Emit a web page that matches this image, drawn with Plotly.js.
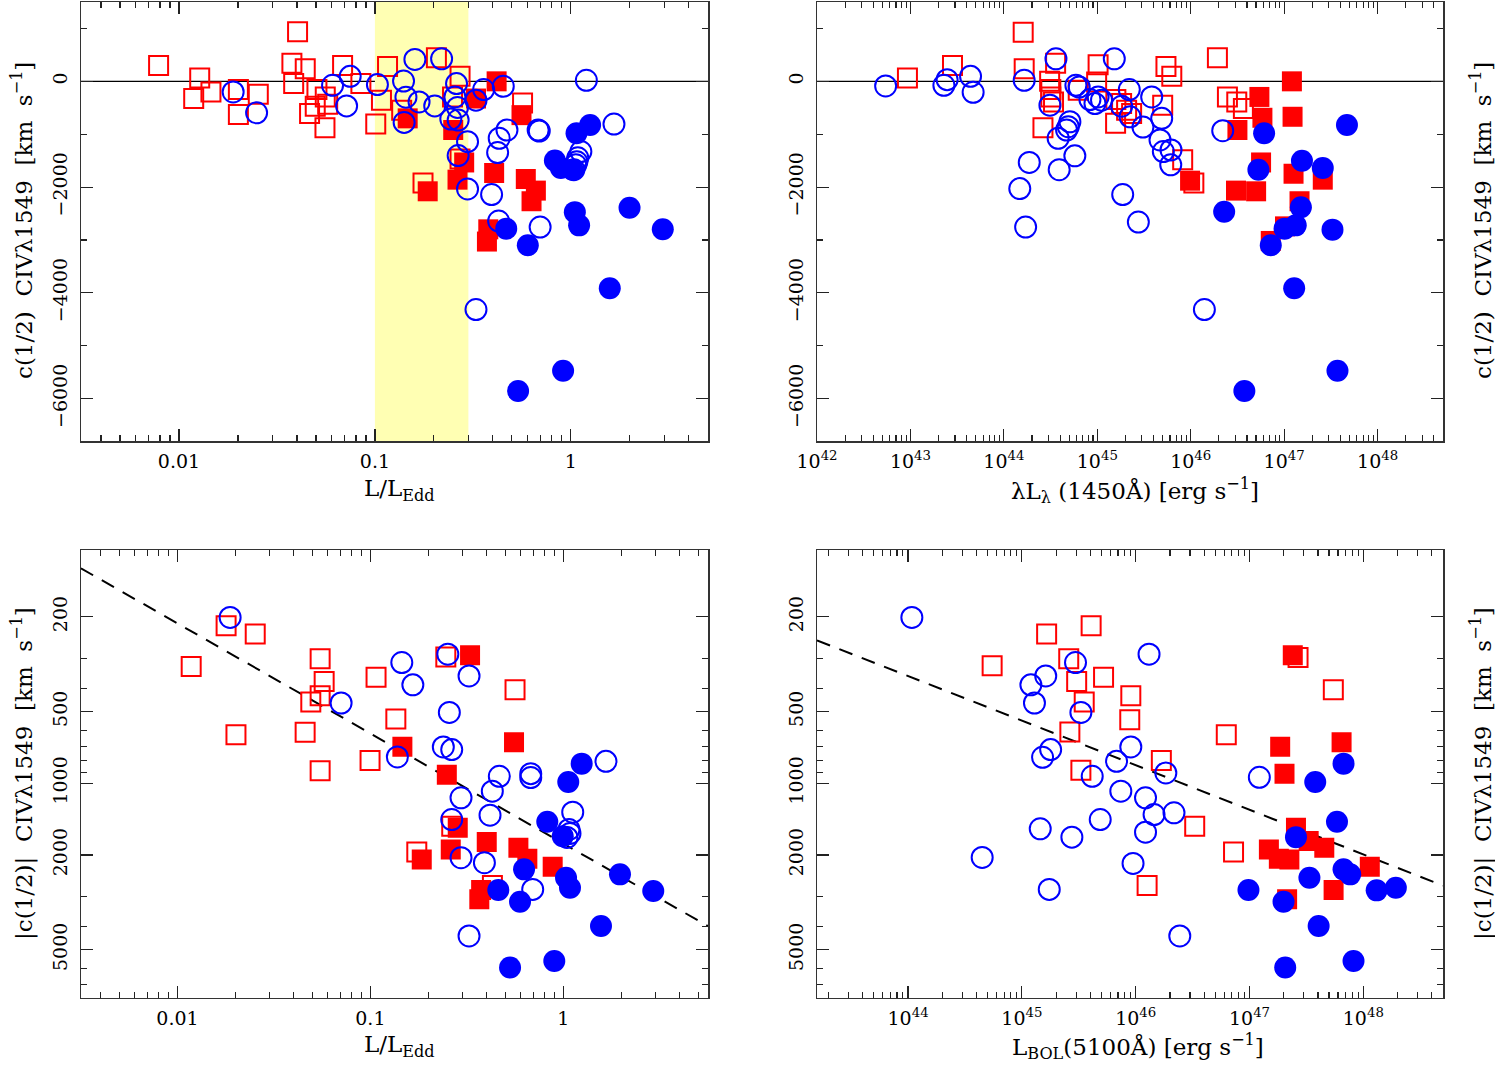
<!DOCTYPE html>
<html>
<head>
<meta charset="utf-8">
<script src="https://cdn.plot.ly/plotly-3.0.1.min.js"></script>
<style>html,body{margin:0;padding:0;background:#fff}</style>
</head>
<body>
<div id="plot" style="width:1495px;height:1065px"></div>
<script>
// ---- top left: c(1/2) CIV vs L/LEdd ----
const tlOpenSqX = [0.00787, 0.01276, 0.01189, 0.01456, 0.0201, 0.0254, 0.0201, 0.0403, 0.0377, 0.0441, 0.0385, 0.0506, 0.0558, 0.0496, 0.0464, 0.0574, 0.0556, 0.0684, 0.0848, 0.108, 0.101, 0.116, 0.137, 0.206, 0.272, 0.249, 0.567, 0.176, 0.272];
const tlOpenSqY = [300, 62, -325, -201, -156, -244, -625, 939, 344, 239, -43, -156, -295, -470, -607, -432, -877, 300, -43, -357, -808, 282, -545, 445, 94, -295, -408, -1921, -1470];
const tlFillSqX = [0.418, 0.328, 0.147, 0.251, 0.56, 0.2855, 0.264, 0.406, 0.589, 0.663, 0.630, 0.186, 0.379, 0.373];
const tlFillSqY = [0, -325, -700, -920, -639, -1534, -1859, -1733, -1846, -2066, -2267, -2079, -2798, -3029];
const tlOpenCiX = [0.0189, 0.0249, 0.0608, 0.0748, 0.0717, 0.103, 0.14, 0.16, 0.219, 0.144, 0.168, 0.202, 0.141, 0.261, 0.256, 0.264, 0.244, 0.266, 0.359, 0.328, 0.452, 0.297, 0.266, 0.472, 0.431, 0.423, 0.681, 0.69, 1.2, 1.66, 1.125, 1.085, 1.073, 1.06, 1.036, 0.297, 0.394, 0.428, 0.697, 0.328];
const tlOpenCiY = [-201, -595, -75, 94, -464, -62, 6, 413, 426, -300, -389, -464, -776, -43, -295, -494, -714, -732, -156, -357, -94, -1140, -1403, -920, -1076, -1347, -920, -939, 19, -808, -1328, -1446, -1521, -1578, -1671, -2034, -2141, -2642, -2755, -4314];
const tlFillCiX = [1.254, 1.069, 0.829, 0.889, 1.02, 1.048, 1.102, 1.993, 2.946, 0.468, 0.603, 1.58, 0.913, 0.538];
const tlFillCiY = [-826, -982, -1497, -1640, -1671, -2473, -2723, -2391, -2798, -2785, -3099, -3912, -5471, -5854];
const bandLo = 0.1, bandHi = 0.3;

// ---- top right: c(1/2) CIV vs lambda L_lambda(1450) ----
const trOpenSqX = [9.29e42, 2.82e43, 1.61e44, 1.65e44, 3.58e44, 3.09e44, 3.18e44, 3.18e44, 3.40e44, 2.62e44, 1.02e45, 9.84e44, 6.25e44, 1.58e45, 1.82e45, 1.57e45, 2.06e45, 2.33e45, 5.43e45, 6.27e45, 5.01e45, 8.20e45, 1.08e46, 1.93e46, 2.47e46, 3.11e46, 3.66e46];
const trOpenSqY = [62, 300, 926, 239, 344, 0, -156, -295, -389, -877, 314, -13, -169, -344, -419, -794, -545, -607, 282, 94, -451, -1484, -1921, 445, -295, -389, -513];
const trFillSqX = [1.21e47, 5.43e46, 5.85e46, 1.23e47, 3.16e46, 5.66e46, 1.26e47, 2.59e47, 3.05e46, 5.01e46, 1.46e47, 1.02e47, 7.19e46, 9.84e45];
const trFillSqY = [0, -295, -689, -670, -920, -1534, -1747, -1859, -2066, -2079, -2267, -2742, -3018, -1878];
const trOpenCiX = [5.43e42, 2.47e43, 2.28e43, 4.40e43, 4.69e43, 1.65e44, 3.61e44, 3.11e44, 5.09e44, 4.89e44, 4.69e44, 3.81e44, 5.75e44, 3.91e44, 1.87e44, 1.48e44, 1.71e44, 5.90e44, 6.40e44, 8.34e44, 1.02e45, 9.44e44, 1.11e45, 1.52e45, 2.20e45, 1.82e45, 2.24e45, 3.08e45, 1.87e45, 2.75e45, 3.82e45, 4.89e45, 4.69e45, 5.09e45, 6.15e45, 6.11e45, 2.20e46, 1.40e46];
const trOpenCiY = [-88, 32, -75, 94, -207, 19, 426, -451, -764, -858, -920, -1076, -1409, -1671, -1534, -2028, -2755, -75, -107, -344, -295, -419, -357, 426, -156, -470, -670, -864, -2141, -2661, -295, -700, -1108, -1328, -1296, -1578, -933, -4314];
const trFillCiX = [4.70e47, 6.10e46, 1.55e47, 2.59e47, 5.30e46, 2.28e46, 1.51e47, 1.33e47, 1.01e47, 3.29e47, 7.19e46, 1.28e47, 3.72e47, 3.75e46];
const trFillCiY = [-826, -982, -1502, -1640, -1671, -2466, -2379, -2723, -2785, -2804, -3099, -3912, -5471, -5854];

// ---- bottom left: |c(1/2)| vs L/LEdd ----
const blOpenSqX = [0.01787, 0.0253, 0.01178, 0.0549, 0.0576, 0.0549, 0.0491, 0.107, 0.1355, 0.0201, 0.0459, 0.0549, 0.0996, 0.246, 0.562, 0.264, 0.174, 0.429];
const blOpenSqY = [218, 236, 323, 300, 374, 429, 456, 359, 537, 625, 611, 885, 803, 295, 405, 1514, 1946, 2686];
const blFillSqX = [0.1465, 0.249, 0.3286, 0.5553, 0.2837, 0.401, 0.1846, 0.261, 0.585, 0.651, 0.881, 0.375, 0.367];
const blFillSqY = [703, 920, 290, 673, 1538, 1766, 2090, 1897, 1866, 2075, 2241, 2810, 3074];
const blOpenCiX = [0.01875, 0.0705, 0.1455, 0.166, 0.138, 0.252, 0.3246, 0.2566, 0.2388, 0.264, 0.466, 0.678, 0.678, 1.664, 0.295, 0.4286, 0.417, 0.264, 1.119, 1.07, 1.083, 1.045, 0.295, 0.39, 0.694, 0.3246];
const blOpenCiY = [201, 460, 311, 386, 775, 287, 354, 504, 704, 722, 935, 911, 946, 809, 1151, 1080, 1362, 1420, 1323, 1563, 1625, 1689, 2055, 2157, 2791, 4380];
const blFillCiX = [1.245, 1.061, 0.826, 0.993, 1.967, 2.926, 0.626, 1.033, 1.083, 0.4604, 0.5966, 1.568, 0.898, 0.5296];
const blFillCiY = [827, 987, 1451, 1668, 2414, 2837, 2300, 2493, 2746, 2810, 3143, 3978, 5576, 5943];
const blFitX = [0.00316, 5.62];
const blFitY = [125, 3981];

// ---- bottom right: |c(1/2)| vs L_BOL(5100) ----
const brOpenSqX = [1.65e45, 4.06e45, 5.48e44, 2.58e45, 3.03e45, 5.22e45, 3.53e45, 9.06e45, 8.87e45, 2.64e45, 3.30e45, 1.68e46, 1.26e46, 2.67e47, 5.45e47, 6.25e46, 3.30e46, 7.24e46];
const brOpenSqY = [236, 218, 321, 300, 374, 359, 456, 429, 541, 609, 882, 803, 2686, 296, 405, 625, 1514, 1946];
const brFillSqX = [2.40e47, 1.86e47, 6.44e47, 2.03e47, 2.56e47, 3.31e47, 4.54e47, 1.48e47, 1.81e47, 2.24e47, 1.14e48, 5.48e47, 2.14e47];
const brFillSqY = [290, 703, 673, 913, 1538, 1750, 1866, 1897, 2075, 2090, 2241, 2810, 3074];
const brOpenCiX = [1.08e44, 1.20e45, 1.62e45, 1.29e45, 2.96e45, 3.30e45, 1.79e45, 1.52e45, 1.31e46, 9.06e45, 6.79e45, 4.15e45, 1.84e46, 7.40e45, 1.22e46, 1.45e46, 2.17e46, 1.22e46, 1.45e45, 2.75e45, 4.88e45, 9.48e45, 4.48e44, 1.74e45, 2.44e46, 1.22e47];
const brOpenCiY = [201, 386, 354, 460, 311, 504, 722, 778, 287, 704, 809, 935, 905, 1080, 1151, 1353, 1331, 1605, 1553, 1684, 1420, 2171, 2049, 2791, 4380, 944];
const brFillCiX = [6.70e47, 3.78e47, 5.87e47, 2.56e47, 6.70e47, 7.67e47, 1.31e48, 1.93e48, 3.36e47, 9.79e46, 1.99e47, 4.05e47, 8.20e47, 2.06e47];
const brFillCiY = [827, 987, 1451, 1684, 2300, 2414, 2818, 2746, 2493, 2810, 3143, 3978, 5576, 5943];
const brFitX = [1.585e43, 5.01e48];
const brFitY = [251, 2690];

// tick labels
const eddTicks = [0.01, 0.1, 1];
const eddLabels = ['0.01', '0.1', '1'];
const lumTicksTR = [1e42, 1e43, 1e44, 1e45, 1e46, 1e47, 1e48];
const lumLabelsTR = ['42', '43', '44', '45', '46', '47', '48'].map(e => '10<sup>' + e + '</sup>');
const lumTicksBR = [1e44, 1e45, 1e46, 1e47, 1e48];
const lumLabelsBR = ['44', '45', '46', '47', '48'].map(e => '10<sup>' + e + '</sup>');
const shiftTicks = [-6000, -4000, -2000, 0];
const shiftLabels = ['\u22126000', '\u22124000', '\u22122000', '0'];
const shiftMinor = [-5000, -3000, -1000, 1000];
const shiftRange = [-6800, 1500];
const absTicks = [200, 500, 1000, 2000, 5000];
const absMinor = [300, 400, 600, 700, 800, 900, 3000, 4000, 6000, 7000];

const RED = '#ff0000', BLUE = '#0000ff';
const FONT = 'DejaVu Serif, serif';
const W = 1495, H = 1065;

// minor ticks 2..9 in every decade inside [lo, hi] (log10 units)
function decadeMinors(lo, hi) {
    const out = [];
    for (let d = Math.floor(lo); d <= Math.ceil(hi); d++) {
        for (let m = 2; m <= 9; m++) {
            const v = m * Math.pow(10, d);
            if (Math.log10(v) > lo && Math.log10(v) < hi) out.push(v);
        }
    }
    return out;
}

function px2x(p) { return p / W; }
function px2y(p) { return 1 - p / H; }

function axis(domain, anchor, extra) {
    return Object.assign({
        domain: domain, anchor: anchor,
        showline: true, linecolor: '#333', linewidth: 1.5, mirror: 'ticks',
        ticks: 'inside', ticklen: 12, tickwidth: 1.2, tickcolor: '#222',
        showgrid: false, zeroline: false, autorange: false,
        tickfont: {family: FONT, size: 19, color: '#000'}
    }, extra);
}
function minor(vals) {
    return {tickmode: 'array', tickvals: vals, ticks: 'inside', ticklen: 6, tickwidth: 1.2, tickcolor: '#222', showgrid: false};
}

function pts(x, y, xa, ya, symbol, color, size, open) {
    return {
        x: x, y: y, xaxis: xa, yaxis: ya, type: 'scatter', mode: 'markers', hoverinfo: 'skip',
        marker: open
            ? {symbol: symbol + '-open', size: size, color: color, line: {color: color, width: 2}}
            : {symbol: symbol, size: size, color: color, line: {width: 0}}
    };
}

function panel(xa, ya, sqOX, sqOY, sqFX, sqFY, ciOX, ciOY, ciFX, ciFY) {
    return [
        pts(sqOX, sqOY, xa, ya, 'square', RED, 19, true),
        pts(sqFX, sqFY, xa, ya, 'square', RED, 20, false),
        pts(ciOX, ciOY, xa, ya, 'circle', BLUE, 21, true),
        pts(ciFX, ciFY, xa, ya, 'circle', BLUE, 22, false)
    ];
}

const fitStyle = {color: '#000', width: 2, dash: '14px,10px'};

// yellow L/LEdd band, drawn first so it sits under the points
const band = {
    x: [bandLo, bandHi, bandHi, bandLo, bandLo],
    y: [shiftRange[0], shiftRange[0], shiftRange[1], shiftRange[1], shiftRange[0]],
    xaxis: 'x', yaxis: 'y', type: 'scatter', mode: 'lines', fill: 'toself',
    fillcolor: '#ffffb3', line: {width: 0, color: 'rgba(0,0,0,0)'}, hoverinfo: 'skip'
};

const traces = [].concat(
    [band],
    panel('x', 'y', tlOpenSqX, tlOpenSqY, tlFillSqX, tlFillSqY, tlOpenCiX, tlOpenCiY, tlFillCiX, tlFillCiY),
    panel('x2', 'y2', trOpenSqX, trOpenSqY, trFillSqX, trFillSqY, trOpenCiX, trOpenCiY, trFillCiX, trFillCiY),
    [{x: blFitX, y: blFitY, xaxis: 'x3', yaxis: 'y3', mode: 'lines', line: fitStyle, hoverinfo: 'skip'}],
    panel('x3', 'y3', blOpenSqX, blOpenSqY, blFillSqX, blFillSqY, blOpenCiX, blOpenCiY, blFillCiX, blFillCiY),
    [{x: brFitX, y: brFitY, xaxis: 'x4', yaxis: 'y4', mode: 'lines', line: fitStyle, hoverinfo: 'skip'}],
    panel('x4', 'y4', brOpenSqX, brOpenSqY, brFillSqX, brFillSqY, brOpenCiX, brOpenCiY, brFillCiX, brFillCiY)
);

// frame edges in pixels
const colL = [px2x(81), px2x(708)], colR = [px2x(817), px2x(1443)];
const rowT = [px2y(441), px2y(2)], rowB = [px2y(997.5), px2y(550)];

const topY = {tickmode: 'array', tickvals: shiftTicks, ticktext: shiftLabels, tickangle: -90, range: shiftRange,
    minor: minor(shiftMinor), ticklabelstandoff: 5};
const botY = {type: 'log', tickmode: 'array', tickvals: absTicks, ticktext: absTicks.map(String), tickangle: -90, range: [3.9, 2.02],
    minor: minor(absMinor), ticklabelstandoff: 5};

const titleFont = {family: FONT, size: 23, color: '#000'};
const yTitleTop = 'c(1/2)&nbsp;&nbsp;CIV\u03bb1549&nbsp;&nbsp;[km&nbsp;&nbsp;s<sup>\u22121</sup>]';
const yTitleBot = '|c(1/2)|&nbsp;&nbsp;CIV\u03bb1549&nbsp;&nbsp;[km&nbsp;&nbsp;s<sup>\u22121</sup>]';

function label(text, x, y, angle) {
    return {text: text, xref: 'paper', yref: 'paper', x: px2x(x), y: px2y(y), xanchor: 'center', yanchor: 'middle',
        showarrow: false, textangle: angle || 0, font: titleFont};
}

const layout = {
    width: W, height: H,
    margin: {l: 0, r: 0, t: 0, b: 0},
    paper_bgcolor: '#fff', plot_bgcolor: '#fff',
    showlegend: false,
    xaxis: axis(colL, 'y', {type: 'log', range: [-2.5, 0.7], tickmode: 'array', tickvals: eddTicks, ticktext: eddLabels,
        minor: minor(decadeMinors(-2.5, 0.7)), ticklabelstandoff: 3}),
    yaxis: axis(rowT, 'x', topY),
    xaxis2: axis(colR, 'y2', {type: 'log', range: [42, 48.7], tickmode: 'array', tickvals: lumTicksTR, ticktext: lumLabelsTR,
        minor: minor(decadeMinors(42, 48.7)), ticklabelstandoff: 3}),
    yaxis2: axis(rowT, 'x2', topY),
    xaxis3: axis(colL, 'y3', {type: 'log', range: [-2.5, 0.75], tickmode: 'array', tickvals: eddTicks, ticktext: eddLabels,
        minor: minor(decadeMinors(-2.5, 0.75)), ticklabelstandoff: 3}),
    yaxis3: axis(rowB, 'x3', botY),
    xaxis4: axis(colR, 'y4', {type: 'log', range: [43.2, 48.7], tickmode: 'array', tickvals: lumTicksBR, ticktext: lumLabelsBR,
        minor: minor(decadeMinors(43.2, 48.7)), ticklabelstandoff: 3}),
    yaxis4: axis(rowB, 'x4', botY),
    shapes: [
        {type: 'line', xref: 'x domain', yref: 'y', x0: 0, x1: 1, y0: 0, y1: 0, line: {color: '#000', width: 1.3}, layer: 'below'},
        {type: 'line', xref: 'x2 domain', yref: 'y2', x0: 0, x1: 1, y0: 0, y1: 0, line: {color: '#000', width: 1.3}, layer: 'below'}
    ],
    annotations: [
        label(yTitleTop, 22, 221, -90),
        label(yTitleTop, 1481, 221, -90),
        label(yTitleBot, 22, 774, -90),
        label(yTitleBot, 1481, 774, -90),
        label('L/L<sub>Edd</sub>', 399, 490),
        label('\u03bbL<sub>\u03bb</sub> (1450\u00c5) [erg s<sup>\u22121</sup>]', 1135, 490),
        label('L/L<sub>Edd</sub>', 399, 1046),
        label('L<sub>BOL</sub>(5100\u00c5) [erg s<sup>\u22121</sup>]', 1138, 1046)
    ]
};

Plotly.newPlot('plot', traces, layout, {staticPlot: true});
</script>
</body>
</html>
